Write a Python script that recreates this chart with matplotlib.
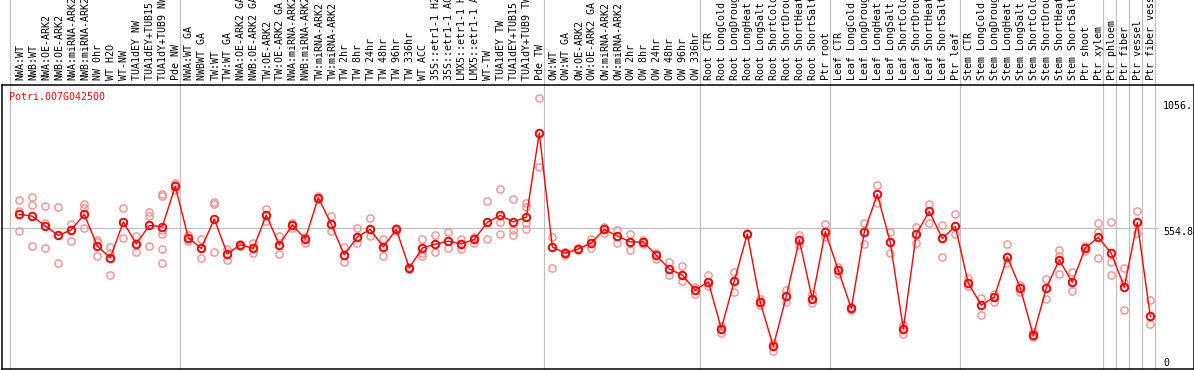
import matplotlib
matplotlib.use("Agg")
import matplotlib.pyplot as plt
import matplotlib.transforms as mtransforms

gene = "Potri.007G042500"

labels = [
    "NWA:WT", "NWB:WT", "NWA:OE-ARK2", "NWB:OE-ARK2", "NWA:miRNA-ARK2", "NWB:miRNA-ARK2",
    "NW 0hr", "WT H2O", "WT-NW", "TUA1dEY NW", "TUA1dEY+TUB15 NW", "TUA1dY+TUB9 NW", "Pde NW",
    "NWA:WT GA", "NWBWT GA", "TW:WT", "TW:WT GA", "NWA:OE-ARK2 GA", "NWB:OE-ARK2 GA",
    "TW:OE-ARK2", "TW:OE-ARK2 GA", "NWA:miRNA-ARK2 GA", "NWB:miRNA-ARK2 GA", "TW:miRNA-ARK2",
    "TW:miRNA-ARK2", "TW 2hr", "TW 8hr", "TW 24hr", "TW 48hr", "TW 96hr", "TW 336hr", "WT ACC",
    "35S::etr1-1 H2O", "35S::etr1-1 ACC", "LMX5::etr1-1 H2O", "LMX5::etr1-1 ACC", "WT-TW",
    "TUA1dEY TW", "TUA1dEY+TUB15 TW", "TUA1dY+TUB9 TW", "Pde TW",
    "OW:WT", "OW:WT GA", "OW:OE-ARK2", "OW:OE-ARK2 GA", "OW:miRNA-ARK2", "OW:miRNA-ARK2",
    "OW 2hr", "OW 8hr", "OW 24hr", "OW 48hr", "OW 96hr", "OW 336hr",
    "Root CTR", "Root LongCold", "Root LongDrought", "Root LongHeat", "Root LongSalt",
    "Root ShortCold", "Root ShortDrought", "Root ShortHeat", "Root ShortSalt", "Ptr root",
    "Leaf CTR", "Leaf LongCold", "Leaf LongDrought", "Leaf LongHeat", "Leaf LongSalt",
    "Leaf ShortCold", "Leaf ShortDrought", "Leaf ShortHeat", "Leaf ShortSalt", "Ptr leaf",
    "Stem CTR", "Stem LongCold", "Stem LongDrought", "Stem LongHeat", "Stem LongSalt",
    "Stem ShortCold", "Stem ShortDrought", "Stem ShortHeat", "Stem ShortSalt", "Ptr shoot",
    "Ptr xylem",
    "Ptr phloem", "Ptr fiber", "Ptr vessel", "Ptr fiber vessel",
]

group_sizes = [13, 28, 12, 10, 10, 11, 1, 1, 1, 1]

means = [
    609, 602, 563, 525, 547, 609, 483, 435, 579, 491, 565, 560, 721,
    516, 473, 591, 451, 488, 473, 606, 487, 567, 511, 676, 569, 447, 519, 549, 479, 549,
    395, 475, 490, 502, 491, 509, 577, 605, 579, 598, 934,
    479, 454, 471, 495, 549, 523, 499, 499, 446, 391, 367, 307,
    340, 153, 343, 531, 258, 82, 282, 507, 271, 540,
    386, 234, 539, 689, 498, 152, 531, 621, 513, 561,
    334, 247, 279, 439, 315, 126, 315, 427, 338, 475, 517,
    454, 319, 577, 202,
]

replicates = [
    [665, 624, 541], [678, 645, 483], [641, 573, 475], [637, 525, 415], [571, 547, 503],
    [650, 633, 555], [508, 500, 443], [480, 454, 366], [634, 579, 516], [524, 491, 458],
    [618, 601, 483], [689, 682, 547, 530, 470, 415], [735, 725, 705],
    [528, 516, 504], [511, 473, 435], [658, 649, 458], [470, 451, 428], [492, 488, 484],
    [496, 473, 454], [630, 606, 582], [523, 487, 451], [576, 567, 555], [520, 511, 494],
    [682, 676, 670], [602, 569, 541], [478, 447, 418], [555, 519, 496], [593, 549, 524],
    [509, 479, 442], [555, 549, 543], [400, 395, 390], [509, 454, 443], [525, 490, 459],
    [537, 502, 476], [509, 491, 470], [520, 509, 496], [662, 577, 509], [710, 577, 529],
    [670, 545, 525], [656, 640, 576, 549], [1073, 934, 797],
    [520, 479, 395], [460, 454, 448], [476, 471, 466], [509, 495, 476], [557, 549, 533],
    [547, 523, 496], [531, 499, 466], [506, 499, 492], [456, 446, 430], [419, 391, 366],
    [403, 367, 344], [320, 307, 291],
    [366, 340, 323], [164, 153, 137], [379, 343, 299], [533, 531, 529], [273, 258, 247],
    [94, 82, 65], [307, 282, 261], [528, 507, 485], [291, 271, 254], [569, 540, 520],
    [400, 386, 371], [240, 234, 228], [573, 539, 490], [725, 689, 653], [537, 498, 454],
    [168, 152, 130], [560, 531, 494], [649, 621, 573], [567, 513, 438], [609, 561, 529],
    [354, 334, 323], [274, 247, 206], [291, 279, 259], [491, 439, 414], [328, 315, 299],
    [140, 126, 118], [351, 315, 270], [467, 443, 371], [379, 338, 303], [483, 475, 464],
    [573, 540, 434],
    [577, 418, 366], [394, 336, 227], [621, 577, 533], [266, 202, 170],
]

ytick_values = [0, 554.8, 1056.1]
ytick_labels = ["0", "554.8", "1056."]

W, H = 1194, 370
fig = plt.figure(figsize=(W / 100, H / 100), dpi=100)
ax_l, ax_r = 1.5, 1193.5
ax_t, ax_b = 85, 369
ax = fig.add_axes([ax_l / W, (H - ax_b) / H, (ax_r - ax_l) / W, (ax_b - ax_t) / H])

x0, dx = 19.3, 13.0
ax.set_xlim((ax_l - x0) / dx, (ax_r - x0) / dx)
upp = 3.99
ax.set_ylim(-(ax_b - 367) * upp, (367 - ax_t) * upp)
ax.set_xticks([])
ax.set_yticks([])
for s in ax.spines.values():
    s.set_color("black")
    s.set_linewidth(1.1)

mono = "DejaVu Sans Mono"
grey = "#c0c0c0"

# group separator lines, spanning the whole figure height
ext = ax_b / (ax_b - ax_t)
seps = [-9 / dx]
cum = 0
for g in group_sizes:
    cum += g
    seps.append(cum - 1 + 5 / dx)
for s in seps:
    ax.axvline(s, ymin=0, ymax=ext, color=grey, lw=0.9, clip_on=False, zorder=1)

# mid reference line
ax.axhline(ytick_values[1], xmin=0, xmax=(1158 - ax_l) / (ax_r - ax_l), color=grey, lw=0.9, zorder=1)

xs = list(range(len(means)))

# replicate points
rx, ry = [], []
for i, reps in enumerate(replicates):
    for v in reps:
        rx.append(i)
        ry.append(v)
ax.plot(rx, ry, linestyle="none", marker="o", ms=5.2, mfc="none", mec="#f09090", mew=1.0, zorder=2)

# mean line + markers
ax.plot(xs, means, color="#ff0000", lw=1.0, zorder=3)
ax.plot(xs, means, linestyle="none", marker="o", ms=5.4, mfc="none", mec="#ff0000", mew=1.4, zorder=4)

# sample labels (rotated), anchored at bottom y=80 px
trans_lab = mtransforms.blended_transform_factory(ax.transData, fig.transFigure)
for i, lab in enumerate(labels):
    ax.text(i + 1 / dx, (H - 80) / H, lab, rotation=90, ha="center", va="bottom",
            family=mono, fontsize=7.2, color="black", transform=trans_lab, clip_on=False)

# gene name
fig.text(9.5 / W, (H - 97) / H, gene, ha="left", va="center", family=mono,
         fontsize=7.2, color="#ff0000")

# y tick labels on the right
trans_y = mtransforms.blended_transform_factory(fig.transFigure, ax.transData)
for v, t in zip(ytick_values, ytick_labels):
    off = 3 if v == 0 else -3
    tr = mtransforms.offset_copy(trans_y, fig=fig, x=0, y=off, units="points")
    ax.text(1163 / W, v, t, ha="left", va="center", family=mono, fontsize=7.2,
            color="black", transform=tr, clip_on=False)

fig.savefig("out.png", dpi=100)
